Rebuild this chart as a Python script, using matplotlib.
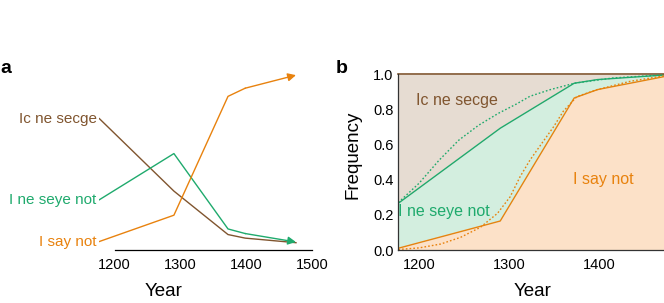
import numpy as np
import matplotlib
matplotlib.use("Agg")
import matplotlib.pyplot as plt

plt.rcParams['font.family'] = ['Liberation Sans', 'DejaVu Sans']

# Data: frequencies of the three negation forms
years = [1177, 1290, 1372, 1398, 1475]
say_not = [0.010, 0.165, 0.865, 0.913, 0.990]
ne_seye_not = [0.256, 0.528, 0.084, 0.057, 0.007]
ne_secge = [0.734, 0.307, 0.051, 0.030, 0.003]

# fitted curves (dotted) in panel b, cumulative frequencies
fit_say_years = [1177, 1200, 1224, 1246, 1268, 1287, 1301, 1312, 1323, 1331, 1349, 1360, 1375, 1397, 1434, 1475]
fit_say_vals = [0.003, 0.012, 0.034, 0.072, 0.129, 0.209, 0.303, 0.417, 0.512, 0.57, 0.70, 0.79, 0.873, 0.912, 0.96, 0.994]
fit_seye_years = [1177, 1200, 1222, 1244, 1266, 1288, 1308, 1323, 1345, 1373, 1415, 1475]
fit_seye_vals = [0.27, 0.38, 0.51, 0.625, 0.71, 0.778, 0.831, 0.875, 0.912, 0.95, 0.979, 0.998]

labels = ['Ic ne secge', 'I ne seye not', 'I say not']

orange = '#E8820E'
green = '#1FAA6D'
brown = '#80552F'
orange_fill = '#FCE1C8'
green_fill = '#D3EEDF'
brown_fill = '#E6DCD2'

fig = plt.figure(figsize=(6.64, 3.03), dpi=100)

# ---- panel a ----
ax1 = fig.add_axes([0.1496, 0.1749, 0.321, 0.627])
ax1.set_xlim(1177, 1500)
ax1.set_ylim(-0.04, 1.079)

series = [(ne_secge, brown, False), (ne_seye_not, green, True), (say_not, orange, True)]
for (vals, col, arrow), lab in zip(series, labels):
    if arrow:
        ax1.plot(years[:-1], vals[:-1], color=col, lw=1.0)
        ax1.annotate('', xy=(years[-1], vals[-1]), xytext=(years[-2], vals[-2]),
                     arrowprops=dict(arrowstyle='-|>', color=col, lw=1.0,
                                     mutation_scale=12, shrinkA=0, shrinkB=0))
    else:
        ax1.plot(years, vals, color=col, lw=1.0)
    ax1.annotate(lab, xy=(years[0], vals[0]), xytext=(-2, 0), textcoords='offset points',
                 ha='right', va='center', color=col, fontsize=11)

for s in ['left', 'right', 'top']:
    ax1.spines[s].set_visible(False)
ax1.spines['bottom'].set_bounds(1200, 1500)
ax1.spines['bottom'].set_linewidth(0.9)
ax1.set_yticks([])
ax1.set_xticks([1200, 1300, 1400, 1500])
ax1.set_xticks([1200, 1500], minor=True)
ax1.tick_params(axis='x', which='major', length=0, pad=6, labelsize=10.5)
ax1.tick_params(axis='x', which='minor', direction='in', length=3, width=0.9)
ax1.set_xlabel('Year', fontsize=13.5, labelpad=8)
ax1.xaxis.label.set_x(0.30)

# ---- panel b ----
ax2 = fig.add_axes([0.5999, 0.1749, 0.4047, 0.5799])
ax2.set_xlim(1177, 1475)
ax2.set_ylim(0, 1)

cum1 = np.array(say_not)
cum2 = cum1 + np.array(ne_seye_not)
cum3 = cum2 + np.array(ne_secge)
ax2.fill_between(years, 0, cum1, color=orange_fill, lw=0)
ax2.fill_between(years, cum1, cum2, color=green_fill, lw=0)
ax2.fill_between(years, cum2, cum3, color=brown_fill, lw=0)
ax2.plot(years, cum1, color=orange, lw=1.0)
ax2.plot(years, cum2, color=green, lw=1.0)
ax2.plot(years, cum3, color=brown, lw=1.2, clip_on=False)
ax2.plot(fit_say_years, fit_say_vals, color=orange, lw=1.0, ls=(0, (1.2, 1.5)))
ax2.plot(fit_seye_years, fit_seye_vals, color=green, lw=1.0, ls=(0, (1.2, 1.5)))

ax2.text(1242, 0.852, 'Ic ne secge', color=brown, fontsize=11.5, ha='center', va='center')
ax2.text(1228, 0.218, 'I ne seye not', color=green, fontsize=11.5, ha='center', va='center')
ax2.text(1404, 0.40, 'I say not', color=orange, fontsize=11.5, ha='center', va='center')

for s in ['right', 'top']:
    ax2.spines[s].set_visible(False)
for s in ['left', 'bottom']:
    ax2.spines[s].set_color('#333333')
    ax2.spines[s].set_linewidth(0.9)
ax2.set_xticks([1200, 1300, 1400])
ax2.set_yticks([0.0, 0.2, 0.4, 0.6, 0.8, 1.0])
ax2.set_yticklabels(['0.0', '0.2', '0.4', '0.6', '0.8', '1.0'])
ax2.tick_params(axis='x', length=0, pad=6, labelsize=10.5)
ax2.tick_params(axis='y', length=0, pad=3.5, labelsize=10.5)
ax2.set_xlabel('Year', fontsize=13.5, labelpad=8)
ax2.set_ylabel('Frequency', fontsize=13.5, labelpad=8)
ax2.yaxis.label.set_y(0.54)

fig.text(0.0, 1 - 68 / 303, 'a', fontsize=14, fontweight='bold', ha='left', va='center')
fig.text(341.7 / 664, 1 - 68 / 303, 'b', fontsize=14, fontweight='bold', ha='center', va='center')

fig.savefig('out.png', dpi=100)
